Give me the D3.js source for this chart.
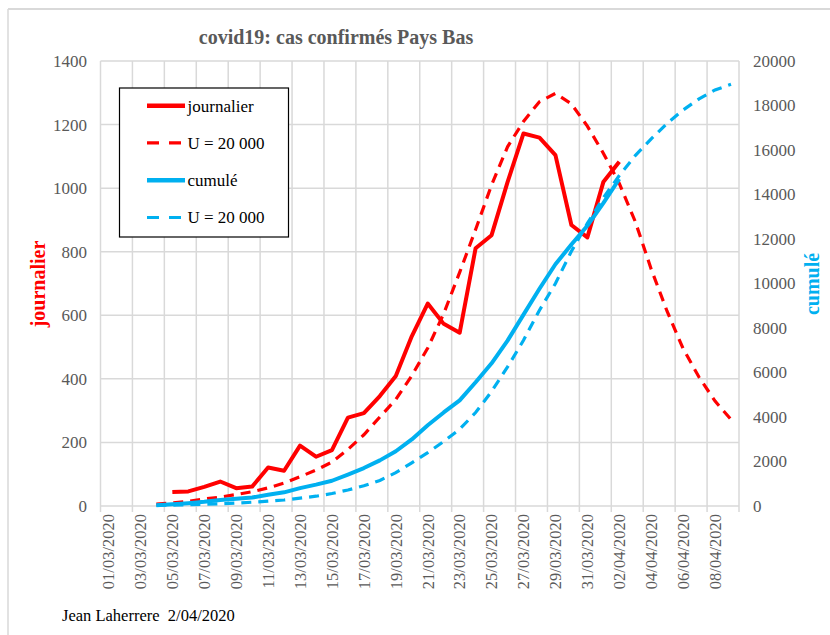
<!DOCTYPE html>
<html>
<head>
<meta charset="utf-8">
<script src="https://cdn.jsdelivr.net/npm/d3@7"></script>
<style>
  html, body { margin: 0; padding: 0; background: #ffffff; }
  svg { display: block; }
</style>
</head>
<body>
<svg id="chart" width="830" height="635"></svg>
<script>
// ---------- DATA ----------
const categories = [
  "01/03/2020","02/03/2020","03/03/2020","04/03/2020","05/03/2020","06/03/2020","07/03/2020","08/03/2020",
  "09/03/2020","10/03/2020","11/03/2020","12/03/2020","13/03/2020","14/03/2020","15/03/2020","16/03/2020",
  "17/03/2020","18/03/2020","19/03/2020","20/03/2020","21/03/2020","22/03/2020","23/03/2020","24/03/2020",
  "25/03/2020","26/03/2020","27/03/2020","28/03/2020","29/03/2020","30/03/2020","31/03/2020","01/04/2020",
  "02/04/2020","03/04/2020","04/04/2020","05/04/2020","06/04/2020","07/04/2020","08/04/2020","09/04/2020"
];

// journalier (observed daily), from 05/03 to 02/04
const journalierStart = "05/03/2020";
const journalier = [44,46,60,77,56,61,121,111,190,155,176,278,292,346,409,534,637,573,545,811,852,1019,1172,1159,1104,884,845,1019,1083];

// U = 20 000 (modelled daily), from 04/03 to 09/04
const modelDailyStart = "04/03/2020";
const modelDaily = [6,10,15,22,28,36,45,57,72,92,113,138,178,224,280,335,410,497,605,735,870,1010,1130,1210,1272,1298,1265,1195,1110,1015,895,745,612,495,405,330,272];

// cumulé (observed cumulative), from 04/03 to 02/04
const cumulStart = "04/03/2020";
const cumul = [38,82,128,188,265,321,382,503,614,804,959,1135,1413,1705,2051,2460,2994,3631,4204,4749,5560,6412,7431,8603,9762,10866,11750,12595,13614,14697];

// U = 20 000 (modelled cumulative), from 04/03 to 09/04
const modelCumulStart = "04/03/2020";
const modelCumul = [30,40,55,75,100,130,170,215,270,350,440,560,720,910,1150,1500,1940,2400,2900,3450,4200,5150,6250,7450,8800,10000,11450,12700,13850,14850,15750,16500,17200,17800,18300,18700,18950];

const leftTicks = [0,200,400,600,800,1000,1200,1400];
const rightTicks = [0,2000,4000,6000,8000,10000,12000,14000,16000,18000,20000];

const titleText = "covid19: cas confirmés Pays Bas";
const leftTitle = "journalier";
const rightTitle = "cumulé";
const legendLabels = ["journalier","U = 20 000","cumulé","U = 20 000"];
const footerText = "Jean Laherrere  2/04/2020";

// ---------- LAYOUT ----------
const RED = "#FF0000", BLUE = "#00B0F0", GRID = "#D9D9D9", TXT = "#595959";
const SERIF = "'Liberation Serif', 'Times New Roman', serif";
const plot = { left: 100.5, right: 739, top: 61, bottom: 506 };

const svg = d3.select("#chart");

const x = d3.scaleBand().domain(categories).range([plot.left, plot.right]).padding(0);
const yL = d3.scaleLinear().domain([0, 1400]).range([plot.bottom, plot.top]);
const yR = d3.scaleLinear().domain([0, 20000]).range([plot.bottom, plot.top]);
const cx = c => x(c) + x.bandwidth() / 2;

function toPoints(startCat, values) {
  const s = categories.indexOf(startCat);
  return values.map((v, k) => ({ c: categories[s + k], v }));
}

// outer chart frame (top & left lines)
svg.append("line").attr("x1", 8).attr("x2", 830).attr("y1", 9).attr("y2", 9)
  .attr("stroke", GRID).attr("stroke-width", 2);
svg.append("line").attr("x1", 8).attr("x2", 8).attr("y1", 9).attr("y2", 635)
  .attr("stroke", GRID).attr("stroke-width", 1.5);

// horizontal gridlines
const gGrid = svg.append("g");
gGrid.selectAll("line.h").data(leftTicks).join("line")
  .attr("x1", plot.left).attr("x2", plot.right)
  .attr("y1", d => yL(d)).attr("y2", d => yL(d))
  .attr("stroke", GRID).attr("stroke-width", 1.5);

// vertical gridlines every 2 categories (band boundaries) + tick marks below
const vCats = categories.filter((c, i) => i % 2 === 0);
const vPos = vCats.map(c => x(c)).concat([plot.right]);
gGrid.selectAll("line.v").data(vPos).join("line")
  .attr("x1", d => d).attr("x2", d => d)
  .attr("y1", plot.top).attr("y2", plot.bottom + 6)
  .attr("stroke", GRID).attr("stroke-width", 1.5);

// left axis labels
svg.append("g").selectAll("text").data(leftTicks).join("text")
  .attr("x", 87).attr("y", d => yL(d)).attr("dy", "0.35em")
  .attr("text-anchor", "end")
  .attr("font-family", SERIF).attr("font-size", 17).attr("fill", TXT)
  .text(d => d);

// right axis labels
svg.append("g").selectAll("text").data(rightTicks).join("text")
  .attr("x", 753).attr("y", d => yR(d)).attr("dy", "0.35em")
  .attr("text-anchor", "start")
  .attr("font-family", SERIF).attr("font-size", 17).attr("fill", TXT)
  .text(d => d);

// x labels (rotated)
svg.append("g").selectAll("text").data(vCats).join("text")
  .attr("transform", d => `translate(${cx(d)},${plot.bottom + 8}) rotate(-90)`)
  .attr("dy", "0.35em")
  .attr("text-anchor", "end")
  .attr("font-family", SERIF).attr("font-size", 16.5).attr("fill", TXT)
  .text(d => d);

// ---------- SERIES ----------
const lineL = d3.line().x(d => cx(d.c)).y(d => yL(d.v));
const lineR = d3.line().x(d => cx(d.c)).y(d => yR(d.v));

svg.append("path").datum(toPoints(journalierStart, journalier))
  .attr("d", lineL).attr("fill", "none").attr("stroke", RED)
  .attr("stroke-width", 4).attr("stroke-linejoin", "round");

svg.append("path").datum(toPoints(modelDailyStart, modelDaily))
  .attr("d", lineL).attr("fill", "none").attr("stroke", RED)
  .attr("stroke-width", 3.2).attr("stroke-dasharray", "10,7");

svg.append("path").datum(toPoints(cumulStart, cumul))
  .attr("d", lineR).attr("fill", "none").attr("stroke", BLUE)
  .attr("stroke-width", 4).attr("stroke-linejoin", "round");

svg.append("path").datum(toPoints(modelCumulStart, modelCumul))
  .attr("d", lineR).attr("fill", "none").attr("stroke", BLUE)
  .attr("stroke-width", 3.2).attr("stroke-dasharray", "10,7");

// ---------- TITLES ----------
svg.append("text").attr("x", 336).attr("y", 44).attr("text-anchor", "middle")
  .attr("font-family", SERIF).attr("font-weight", "bold").attr("font-size", 20)
  .attr("fill", TXT).text(titleText);

svg.append("text").attr("transform", "translate(38,284) rotate(-90)")
  .attr("text-anchor", "middle").attr("dy", "0.35em")
  .attr("font-family", SERIF).attr("font-weight", "bold").attr("font-size", 20)
  .attr("fill", RED).text(leftTitle);

svg.append("text").attr("transform", "translate(812,284) rotate(-90)")
  .attr("text-anchor", "middle").attr("dy", "0.35em")
  .attr("font-family", SERIF).attr("font-weight", "bold").attr("font-size", 20)
  .attr("fill", BLUE).text(rightTitle);

svg.append("text").attr("x", 62).attr("y", 621)
  .style("white-space", "pre")
  .attr("font-family", SERIF).attr("font-size", 16.5).attr("fill", "#000")
  .text(footerText);

// ---------- LEGEND ----------
const legend = svg.append("g");
legend.append("rect").attr("x", 119.5).attr("y", 88).attr("width", 169).attr("height", 149)
  .attr("fill", "#fff").attr("stroke", "#000").attr("stroke-width", 1.2);
const legendStyles = [
  { color: RED, dash: null, w: 4.5 },
  { color: RED, dash: "12,10", w: 3.2 },
  { color: BLUE, dash: null, w: 4.5 },
  { color: BLUE, dash: "12,10", w: 3.2 }
];
const legendY = [105.7, 142.9, 180.2, 217.5];
legendLabels.forEach((lab, i) => {
  const st = legendStyles[i];
  const ln = legend.append("line").attr("x1", 147).attr("x2", 185)
    .attr("y1", legendY[i]).attr("y2", legendY[i])
    .attr("stroke", st.color).attr("stroke-width", st.w);
  if (st.dash) ln.attr("stroke-dasharray", st.dash);
  legend.append("text").attr("x", 187.5).attr("y", legendY[i]).attr("dy", "0.35em")
    .attr("font-family", SERIF).attr("font-size", 17).attr("fill", "#000").text(lab);
});
</script>
</body>
</html>
